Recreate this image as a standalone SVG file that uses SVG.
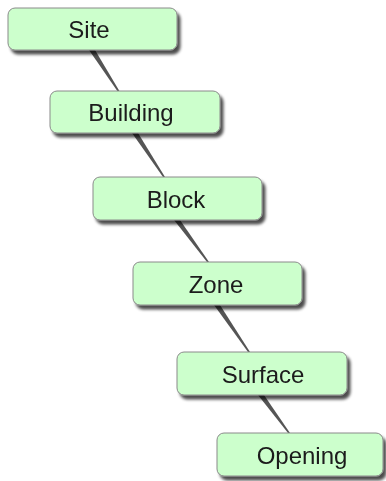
<svg xmlns="http://www.w3.org/2000/svg" width="386" height="481" viewBox="0 0 386 481">
<defs>
<filter id="sh" x="-10%" y="-20%" width="130%" height="160%">
<feGaussianBlur in="SourceAlpha" stdDeviation="1.6"/>
<feOffset dx="3" dy="4" result="b"/>
<feComponentTransfer><feFuncA type="linear" slope="0.7"/></feComponentTransfer>
<feMerge><feMergeNode/><feMergeNode in="SourceGraphic"/></feMerge>
</filter>
<filter id="lsh" x="-50%" y="-20%" width="200%" height="140%">
<feGaussianBlur stdDeviation="0.4"/>
</filter>
</defs>
<style>
.box{fill:#ccffcc;stroke:#8a8a8a;stroke-width:1}
.lbl{font-family:"Liberation Sans",Arial,sans-serif;font-size:24px;fill:#1a1a1a;text-anchor:middle}
.wedge{fill:#555}
</style>
<rect width="386" height="481" fill="#ffffff"/>
<g id="connectors" filter="url(#lsh)">
<polygon class="wedge" points="89,50 95,50 120,92 118,92"/>
<polygon class="wedge" points="132,133 138,133 165,177 163,177"/>
<polygon class="wedge" points="174,220 180,220 209,262 207,262"/>
<polygon class="wedge" points="214,305 220,305 250,352 248,352"/>
<polygon class="wedge" points="258,395 264,395 290,433 288,433"/>
</g>
<g id="site" filter="url(#sh)"><rect class="box" x="8" y="8" width="169" height="42" rx="7"/><text class="lbl" x="89" y="38">Site</text></g>
<g id="building" filter="url(#sh)"><rect class="box" x="50" y="91" width="170" height="42" rx="7"/><text class="lbl" x="131" y="121">Building</text></g>
<g id="block" filter="url(#sh)"><rect class="box" x="93" y="177" width="169" height="43" rx="7"/><text class="lbl" x="176" y="208">Block</text></g>
<g id="zone" filter="url(#sh)"><rect class="box" x="133" y="262" width="169" height="43" rx="7"/><text class="lbl" x="216" y="293">Zone</text></g>
<g id="surface" filter="url(#sh)"><rect class="box" x="177" y="352" width="170" height="43" rx="7"/><text class="lbl" x="263" y="383">Surface</text></g>
<g id="opening" filter="url(#sh)"><rect class="box" x="217" y="433" width="166" height="43" rx="7"/><text class="lbl" x="302" y="464">Opening</text></g>
</svg>
